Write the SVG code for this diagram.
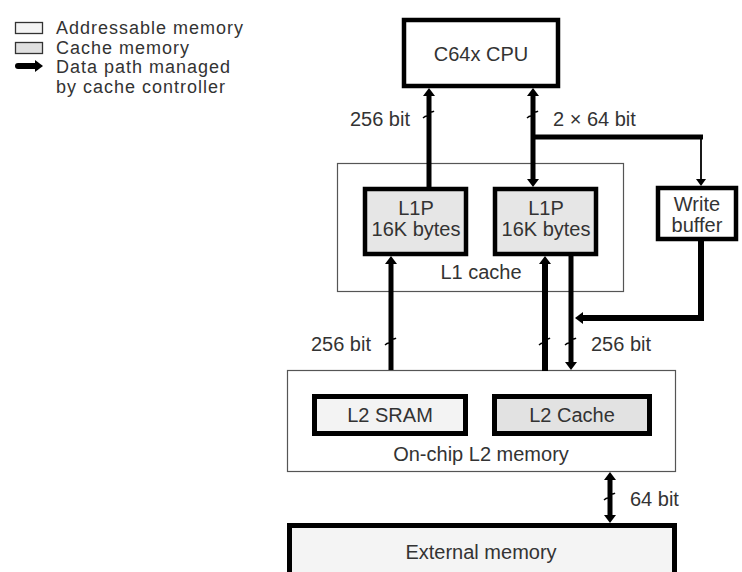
<svg xmlns="http://www.w3.org/2000/svg" width="742" height="572" viewBox="0 0 742 572">
<style>
text{font-family:"Liberation Sans",Arial,sans-serif;font-size:20px;fill:#333}
.lg{font-size:18px;letter-spacing:1px}
.c{text-anchor:middle}
.e{text-anchor:end}
.thin{fill:none;stroke:#555;stroke-width:1.2}
.box{stroke:#000;stroke-width:4.5}
.wire{fill:none;stroke:#000;stroke-width:5}
.wthin{fill:none;stroke:#000;stroke-width:1.8}
.tick{fill:none;stroke:#000;stroke-width:1.4}
</style>
<defs>
<marker id="ah" markerUnits="userSpaceOnUse" markerWidth="10" markerHeight="12" refX="0" refY="6" orient="auto-start-reverse" viewBox="0 0 8 12"><path d="M0,0 L8,6 L0,12 z" fill="#000"/></marker>
<marker id="ahs" markerUnits="userSpaceOnUse" markerWidth="8" markerHeight="10" refX="0" refY="5" orient="auto-start-reverse" viewBox="0 0 7 10"><path d="M0,0 L7,5 L0,10 z" fill="#000"/></marker>
</defs>
<rect width="742" height="572" fill="#fff"/>

<g id="legend">
<rect x="15.5" y="22.5" width="27" height="11" fill="#f4f4f4" stroke="#333" stroke-width="1.3"/>
<text class="lg" x="56" y="34">Addressable memory</text>
<rect x="15.5" y="42.5" width="27" height="11" fill="#e0e0e0" stroke="#333" stroke-width="1.3"/>
<text class="lg" x="56" y="54">Cache memory</text>
<path d="M18 66 H35" stroke="#000" stroke-width="6" stroke-linecap="round" marker-end="url(#ah)"/>
<text class="lg" x="56" y="73">Data path managed<tspan x="56" dy="20">by cache controller</tspan></text>
</g>

<g id="l1cache">
<rect class="thin" x="337.5" y="163.5" width="286" height="128"/>
<text class="c" x="481" y="279">L1 cache</text>
</g>
<g id="l2mem">
<rect class="thin" x="287.5" y="370.5" width="388" height="101"/>
<text class="c" x="481" y="461">On-chip L2 memory</text>
</g>

<g id="connectors">
<path class="wire" d="M429 187 V96" marker-end="url(#ah)"/>
<path class="wire" d="M533 96 V179" marker-start="url(#ah)" marker-end="url(#ah)"/>
<path class="wire" d="M533 137 H703"/>
<path class="wthin" d="M701 137 V179" marker-end="url(#ahs)"/>
<path class="wire" d="M391 370 V264" marker-end="url(#ah)"/>
<path class="wire" style="stroke-width:6" d="M545 371 V264" marker-end="url(#ah)"/>
<path class="wire" d="M571 256 V362" marker-end="url(#ah)"/>
<path class="wire" style="stroke-width:6" d="M701 241 V318 H583" marker-end="url(#ah)"/>
<path class="wire" d="M610 480 V515" marker-start="url(#ah)" marker-end="url(#ah)"/>
<path class="tick" d="M423 118 q2 -2 4 -2 l4 -4 q2 0 3 -1"/>
<path class="tick" d="M527 118 q2 -2 4 -2 l4 -4 q2 0 3 -1"/>
<path class="tick" d="M385 345 q2 -2 4 -2 l4 -4 q2 0 3 -1"/>
<path class="tick" d="M539 345 q2 -2 4 -2 l4 -4 q2 0 3 -1"/>
<path class="tick" d="M565 345 q2 -2 4 -2 l4 -4 q2 0 3 -1"/>
<path class="tick" d="M604 500 q2 -2 4 -2 l4 -4 q2 0 3 -1"/>
<text class="e" x="410" y="126">256 bit</text>
<text x="553" y="126">2 × 64 bit</text>
<text class="e" x="371" y="351">256 bit</text>
<text x="591" y="351">256 bit</text>
<text x="630" y="506">64 bit</text>
</g>

<g id="cpu">
<rect class="box" x="404" y="20" width="154" height="66" fill="#fff"/>
<text class="c" x="481" y="61">C64x CPU</text>
</g>
<g id="l1p-left">
<rect class="box" x="365" y="189" width="101" height="65" fill="#e6e6e6"/>
<text class="c" x="416" y="215">L1P</text>
<text class="c" x="416" y="236">16K bytes</text>
</g>
<g id="l1p-right">
<rect class="box" x="495" y="189" width="101" height="65" fill="#e6e6e6"/>
<text class="c" x="546" y="215">L1P</text>
<text class="c" x="546" y="236">16K bytes</text>
</g>
<g id="write-buffer">
<rect class="box" x="658" y="188" width="78" height="51" fill="#fff"/>
<text class="c" x="697" y="211">Write</text>
<text class="c" x="697" y="232">buffer</text>
</g>
<g id="l2-sram">
<rect class="box" style="stroke-width:5" x="314.5" y="396.5" width="151" height="37" fill="#f3f3f3"/>
<text class="c" x="390" y="422">L2 SRAM</text>
</g>
<g id="l2-cache">
<rect class="box" style="stroke-width:5" x="494.5" y="396.5" width="155" height="37" fill="#e2e2e2"/>
<text class="c" x="572" y="422">L2 Cache</text>
</g>
<g id="external">
<rect class="box" style="stroke-width:5" x="289.5" y="525.5" width="385" height="60" fill="#f4f4f4"/>
<text class="c" x="481" y="559">External memory</text>
</g>
</svg>
